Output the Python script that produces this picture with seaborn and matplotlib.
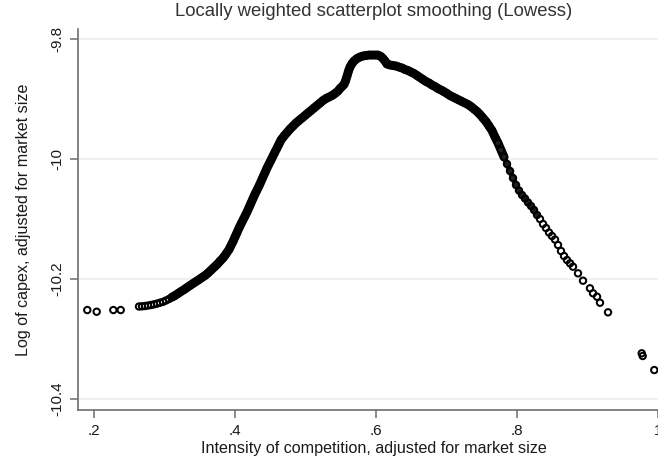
import matplotlib
matplotlib.use("Agg")
import matplotlib.pyplot as plt
import seaborn as sns
import pandas as pd

# Lowess fitted values (x = competition, y = log capex)
competition = [
    0.1905, 0.2038, 0.2274, 0.2379,
    0.2638, 0.2681, 0.2723, 0.2766, 0.2809, 0.2851, 0.2894, 0.2936, 0.2979, 0.3021,
    0.3064, 0.3106, 0.3149, 0.3191, 0.3234, 0.3277, 0.3319, 0.3362, 0.3404, 0.3447,
    0.3489, 0.3532, 0.3574, 0.3617, 0.3660, 0.3702, 0.3745, 0.3787, 0.3830, 0.3872,
    0.3915, 0.3943, 0.3972, 0.4000, 0.4028, 0.4057, 0.4085, 0.4113, 0.4142, 0.4170,
    0.4199, 0.4227, 0.4255, 0.4284, 0.4312, 0.4340, 0.4369, 0.4397, 0.4426, 0.4454,
    0.4482, 0.4511, 0.4539, 0.4567, 0.4596, 0.4624, 0.4652, 0.4695, 0.4738, 0.4780,
    0.4823, 0.4865, 0.4908, 0.4950, 0.4993, 0.5035, 0.5078, 0.5120, 0.5163, 0.5206,
    0.5248, 0.5291, 0.5333, 0.5376, 0.5418, 0.5461, 0.5489, 0.5518, 0.5546, 0.5567,
    0.5589, 0.5610, 0.5631, 0.5660, 0.5688, 0.5730, 0.5773, 0.5816, 0.5858, 0.5901,
    0.5943, 0.5986, 0.6028, 0.6071, 0.6099, 0.6128, 0.6156, 0.6199, 0.6241, 0.6284,
    0.6326, 0.6369, 0.6411, 0.6454, 0.6496, 0.6539, 0.6582, 0.6624, 0.6667, 0.6709,
    0.6752, 0.6794, 0.6837, 0.6879, 0.6922, 0.6965, 0.7007, 0.7050, 0.7092, 0.7135,
    0.7177, 0.7220, 0.7262, 0.7305, 0.7347, 0.7390, 0.7433, 0.7475, 0.7518, 0.7560,
    0.7603, 0.7645, 0.7688, 0.7730, 0.7773, 0.7816, 0.7858, 0.7901, 0.7943, 0.7986,
    0.8028, 0.8071, 0.8113, 0.8156, 0.8199, 0.8241, 0.8284, 0.8326, 0.8369, 0.8411,
    0.8454, 0.8496, 0.8539, 0.8582, 0.8624, 0.8667, 0.8709, 0.8752, 0.8794, 0.8865,
    0.8936, 0.9035, 0.9078, 0.9135, 0.9177, 0.9291, 0.9769, 0.9783, 0.9947,
]
log_capex = [
    -10.2517, -10.2545, -10.2517, -10.2517,
    -10.2458, -10.2455, -10.2450, -10.2442, -10.2433, -10.2422, -10.2410, -10.2395, -10.2380, -10.2358,
    -10.2333, -10.2303, -10.2275, -10.2242, -10.2208, -10.2177, -10.2142, -10.2108, -10.2075, -10.2042,
    -10.2010, -10.1975, -10.1942, -10.1900, -10.1853, -10.1805, -10.1758, -10.1703, -10.1650, -10.1583,
    -10.1508, -10.1442, -10.1375, -10.1300, -10.1228, -10.1150, -10.1083, -10.1017, -10.0950, -10.0883,
    -10.0808, -10.0733, -10.0658, -10.0583, -10.0517, -10.0450, -10.0375, -10.0300, -10.0225, -10.0150,
    -10.0083, -10.0017, -9.9950, -9.9883, -9.9817, -9.9750, -9.9683, -9.9617, -9.9558, -9.9500,
    -9.9450, -9.9400, -9.9358, -9.9317, -9.9275, -9.9233, -9.9192, -9.9150, -9.9108, -9.9067,
    -9.9025, -9.8992, -9.8967, -9.8942, -9.8908, -9.8867, -9.8825, -9.8792, -9.8758, -9.8700,
    -9.8617, -9.8533, -9.8467, -9.8408, -9.8367, -9.8325, -9.8300, -9.8283, -9.8275, -9.8267,
    -9.8267, -9.8267, -9.8267, -9.8292, -9.8325, -9.8367, -9.8417, -9.8433, -9.8442, -9.8450,
    -9.8467, -9.8483, -9.8508, -9.8525, -9.8550, -9.8575, -9.8608, -9.8642, -9.8675, -9.8708,
    -9.8733, -9.8767, -9.8792, -9.8825, -9.8850, -9.8878, -9.8908, -9.8942, -9.8967, -9.8992,
    -9.9017, -9.9042, -9.9067, -9.9092, -9.9125, -9.9167, -9.9208, -9.9258, -9.9317, -9.9375,
    -9.9450, -9.9525, -9.9633, -9.9733, -9.9850, -9.9967, -10.0083, -10.0200, -10.0317, -10.0433,
    -10.0525, -10.0600, -10.0658, -10.0725, -10.0783, -10.0850, -10.0933, -10.1000, -10.1083, -10.1150,
    -10.1225, -10.1283, -10.1342, -10.1433, -10.1533, -10.1617, -10.1683, -10.1738, -10.1795, -10.1905,
    -10.2028, -10.2155, -10.2238, -10.2295, -10.2395, -10.2555, -10.3238, -10.3283, -10.3517,
]

# ranges where observations overlap so much that the circles merge into a solid band
dense_from, dense_to = 0.310, 0.783
semi_to = 0.830

x_ticks = [0.2, 0.4, 0.6, 0.8, 1.0]
x_tick_labels = [".2", ".4", ".6", ".8", "1"]
y_ticks = [-10.4, -10.2, -10.0, -9.8]
y_tick_labels = ["-10.4", "-10.2", "-10", "-9.8"]

df = pd.DataFrame({"competition": competition, "log_capex": log_capex})
dense = df[(df["competition"] >= dense_from) & (df["competition"] <= dense_to)]
semi = df[(df["competition"] >= dense_to - 0.01) & (df["competition"] <= semi_to)]

sns.set_style("white")
plt.rcParams["font.family"] = ["Liberation Sans", "DejaVu Sans"]

fig = plt.figure(figsize=(6.58, 4.62), dpi=100)
ax = fig.add_axes([78 / 658, 52 / 462, 592 / 658, 381 / 462])

# solid band of overlapping markers
sns.lineplot(
    data=dense, x="competition", y="log_capex", ax=ax,
    sort=False, estimator=None, color="black", linewidth=6.4,
    solid_capstyle="round", solid_joinstyle="round", zorder=2,
)
sns.lineplot(
    data=semi, x="competition", y="log_capex", ax=ax,
    sort=False, estimator=None, color="#202020", linewidth=4.0,
    solid_capstyle="round", zorder=2,
)
sns.scatterplot(
    data=df, x="competition", y="log_capex", ax=ax,
    marker="o", s=21, facecolor="none", edgecolor="black", linewidth=1.45,
    zorder=3,
)

ax.set_xlim(0.1773, 1.0170)
ax.set_ylim(-10.4183, -9.7833)

ax.set_xticks(x_ticks)
ax.set_xticklabels(x_tick_labels)
ax.set_yticks(y_ticks)
ax.set_yticklabels(y_tick_labels, rotation=90, va="center")

# Stata-like light horizontal gridlines
for yt in y_ticks:
    ax.axhline(yt, color="#ececec", linewidth=1.2, zorder=0)

for side in ["top", "right"]:
    ax.spines[side].set_visible(False)
for side in ["left", "bottom"]:
    ax.spines[side].set_color("#6e6e6e")
    ax.spines[side].set_linewidth(1.2)

ax.tick_params(axis="both", direction="out", length=6, width=1.1,
               color="#6e6e6e", labelsize=11, labelcolor="#1a1a1a",
               left=True, bottom=True, pad=4)

ax.set_xlabel("Intensity of competition, adjusted for market size",
              fontsize=11.6, color="#1a1a1a", labelpad=2)
ax.set_ylabel("Log of capex, adjusted for market size",
              fontsize=11.6, color="#1a1a1a", labelpad=14)
ax.set_title("Locally weighted scatterplot smoothing (Lowess)",
             fontsize=13.3, color="#333333", pad=9)

fig.savefig("out.png", dpi=100)
